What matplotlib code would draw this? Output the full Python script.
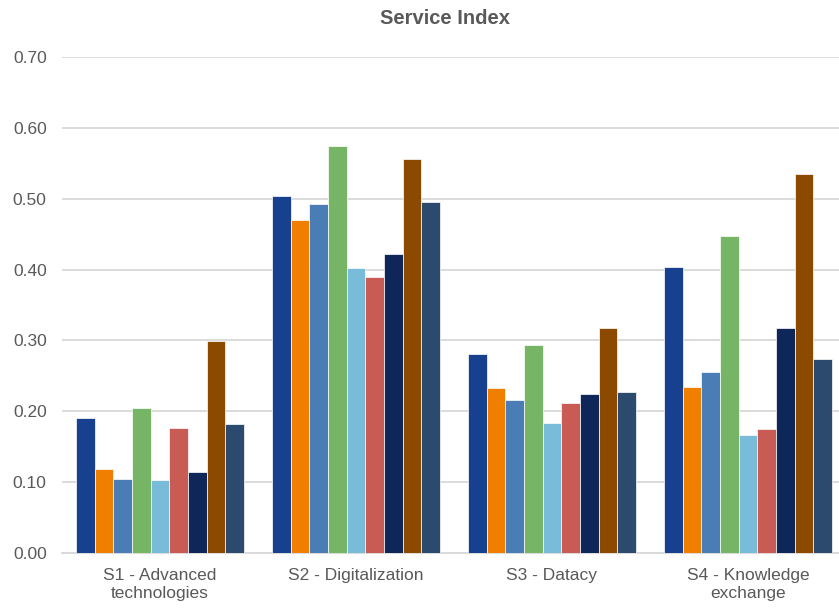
import matplotlib
matplotlib.use("Agg")
import matplotlib.pyplot as plt
import numpy as np

plt.rcParams["font.family"] = ["Liberation Sans", "DejaVu Sans"]

categories = ["S1 - Advanced\ntechnologies", "S2 - Digitalization", "S3 - Datacy", "S4 - Knowledge\nexchange"]

# one list per series (9 series, no legend in the original)
s1 = [0.190, 0.504, 0.281, 0.404]
s2 = [0.118, 0.470, 0.233, 0.234]
s3 = [0.104, 0.493, 0.216, 0.256]
s4 = [0.205, 0.574, 0.293, 0.447]
s5 = [0.103, 0.402, 0.183, 0.167]
s6 = [0.176, 0.389, 0.211, 0.175]
s7 = [0.114, 0.422, 0.224, 0.318]
s8 = [0.299, 0.556, 0.317, 0.535]
s9 = [0.182, 0.495, 0.227, 0.274]
series = [s1, s2, s3, s4, s5, s6, s7, s8, s9]

colors = ["#17408F", "#F07F00", "#4A7CB5", "#77B566", "#78BCDA",
          "#C95B55", "#0E2758", "#8B4A00", "#2B4A6E"]

fig = plt.figure(figsize=(8.39, 6.12), dpi=100)
ax = fig.add_axes([62 / 839, 59 / 612, 777 / 839, 496 / 612])

x = np.arange(len(categories))
n = len(series)
width = 0.857 / n
for i, (vals, c) in enumerate(zip(series, colors)):
    offs = (i - (n - 1) / 2) * width
    ax.bar(x + offs, vals, width, color=c, edgecolor="#ffffff", linewidth=0.5, zorder=3)

ax.set_xlim(-0.5, 3.5 - 7 / 196)
ax.set_ylim(0, 0.70)
ax.set_yticks(np.arange(0, 0.71, 0.10))
ax.set_yticklabels([f"{v:.2f}" for v in np.arange(0, 0.71, 0.10)])
ax.yaxis.grid(True, color="#D9D9D9", linewidth=1.3, zorder=0)
ax.set_xticks(x)
ax.set_xticklabels(categories, linespacing=1.25)

for s in ["top", "right", "left"]:
    ax.spines[s].set_visible(False)
ax.spines["bottom"].set_color("#D9D9D9")
ax.spines["bottom"].set_linewidth(1.3)
ax.tick_params(axis="both", length=0, colors="#595959", labelsize=12.5)
ax.tick_params(axis="y", pad=11)
ax.tick_params(axis="x", pad=11)

fig.text(445 / 839, 1 - 18 / 612, "Service Index", ha="center", va="center",
         fontsize=14.5, fontweight="bold", color="#595959")

fig.savefig("out.png", dpi=100)
